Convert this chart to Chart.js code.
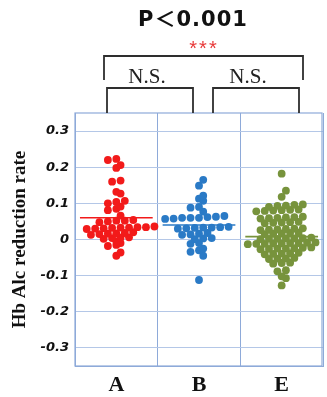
<!DOCTYPE html>
<html>
<head>
<meta charset="utf-8">
<script src="https://cdn.jsdelivr.net/npm/chart.js@4.4.1/dist/chart.umd.min.js"></script>
<style>
  html, body { margin: 0; padding: 0; background: #fff; }
</style>
</head>
<body>
<canvas id="chart" width="327" height="397"></canvas>
<script>
// groups on the x axis
const GROUPS = ['A', 'B', 'E'];

// HbA1c reduction rate per patient
const GROUP_A = [0.223, 0.220, 0.206, 0.198, 0.163, 0.160, 0.132, 0.127, 0.107, 0.104,
  0.100, 0.091, 0.085, 0.081, 0.066, 0.054, 0.052, 0.052, 0.050, 0.048,
  0.036, 0.034, 0.034, 0.033, 0.033, 0.032, 0.031, 0.030, 0.029,
  0.020, 0.018, 0.017, 0.016, 0.015, 0.013, 0.006, 0.005, 0.004, 0.002,
  -0.005, -0.010, -0.015, -0.018, -0.036, -0.045];
const GROUP_B = [0.165, 0.149, 0.121, 0.113, 0.107, 0.090, 0.088, 0.077, 0.065, 0.062,
  0.060, 0.060, 0.058, 0.057, 0.060, 0.063, 0.035, 0.034, 0.033, 0.032,
  0.031, 0.030, 0.033, 0.018, 0.016, 0.014, 0.013, 0.004, 0.003, 0.001,
  -0.010, -0.012, -0.025, -0.030, -0.034, -0.045, -0.112];
const GROUP_E = [0.182, 0.135, 0.118,
  0.097, 0.094, 0.096, 0.093, 0.090,
  0.082, 0.080, 0.078, 0.081, 0.079, 0.083,
  0.062, 0.060, 0.058, 0.061, 0.059, 0.063,
  0.048, 0.046, 0.045, 0.047, 0.049,
  0.030, 0.028, 0.027, 0.029, 0.031, 0.026,
  0.018, 0.016, 0.017, 0.015, 0.019,
  0.004, 0.003, 0.002, 0.003, 0.001, 0.005, 0.002,
  -0.010, -0.011, -0.012, -0.009, -0.011, -0.013, -0.010, -0.012, -0.008,
  -0.024, -0.025, -0.026, -0.023, -0.027, -0.025, -0.022,
  -0.038, -0.040, -0.039, -0.041, -0.037,
  -0.051, -0.053, -0.052, -0.054,
  -0.065, -0.067, -0.064,
  -0.085, -0.088, -0.102, -0.107, -0.127];

// group mean lines as drawn in the figure
const MEANS = [0.060, 0.040, 0.008];

const Y_TICKS = [-0.3, -0.2, -0.1, 0, 0.1, 0.2, 0.3];

const COLORS = ['#f21a1a', '#2a7ac6', '#77933c'];

// dot-plot layout: values that sit close together form one row, each row is
// spread evenly around the group centre, and neighbouring rows are staggered
// by half a step so the dots pack like in the figure
function dotRows(values, center) {
  const STEP = 8.6 / 84; // ~8.6px between dots, ~84px per group
  const sorted = [...values].sort((a, b) => a - b);
  const rows = [];
  sorted.forEach(v => {
    const last = rows[rows.length - 1];
    if (last && v - last[last.length - 1] <= 0.0045) last.push(v);
    else rows.push([v]);
  });
  const out = [];
  let prevPhase = null;
  rows.forEach((row, r) => {
    let shift = -(row.length - 1) / 2;
    let phase = ((shift % 1) + 1) % 1;
    if (phase === prevPhase) {
      shift += r % 2 ? 0.5 : -0.5;
      phase = (phase + 0.5) % 1;
    }
    prevPhase = phase;
    row.forEach((v, j) => out.push({ x: center + (j + shift) * STEP, y: v }));
  });
  return out;
}

const groupValues = [GROUP_A, GROUP_B, GROUP_E];

const datasets = [];
groupValues.forEach((vals, g) => {
  datasets.push({
    type: 'line',
    xAxisID: 'xs',
    data: [{ x: g - 0.44, y: MEANS[g] }, { x: g + 0.44, y: MEANS[g] }],
    borderColor: COLORS[g],
    borderWidth: 1.6,
    pointRadius: 0,
    order: 0
  });
  datasets.push({
    type: 'scatter',
    xAxisID: 'xs',
    data: dotRows(vals, g),
    backgroundColor: COLORS[g],
    borderWidth: 0,
    pointRadius: 3.9,
    order: 1
  });
});

// box around the plot and the significance brackets above it
const annotate = {
  id: 'annotate',
  beforeDatasetsDraw(chart) {
    const { ctx, chartArea: a } = chart;
    ctx.save();
    ctx.strokeStyle = '#8eaad9';
    ctx.lineWidth = 1.2;
    ctx.strokeRect(a.left, a.top, a.right - a.left - 1, a.bottom - a.top);
    ctx.restore();
  },
  afterDraw(chart) {
    const { ctx, chartArea: a } = chart;
    ctx.save();
    ctx.strokeStyle = '#2e2e2e';
    ctx.lineWidth = 1.8;
    const bracket = (x1, x2, top, bottom) => {
      ctx.beginPath();
      ctx.moveTo(x1, bottom);
      ctx.lineTo(x1, top);
      ctx.lineTo(x2, top);
      ctx.lineTo(x2, bottom);
      ctx.stroke();
    };
    bracket(104, 303, 56, 80);
    bracket(107, 193, 88, a.top);
    bracket(213, 299, 88, a.top);

    ctx.textAlign = 'center';
    ctx.textBaseline = 'middle';
    ctx.fillStyle = '#222';
    ctx.font = '21px "Liberation Serif", serif';
    ctx.fillText('N.S.', 147, 77);
    ctx.fillText('N.S.', 248, 77);

    ctx.fillStyle = '#e83a3a';
    ctx.font = '20px "Liberation Sans", sans-serif';
    ctx.letterSpacing = '2px';
    ctx.fillText('***', 204, 49);

    ctx.fillStyle = '#111';
    ctx.font = 'bold 21px "DejaVu Sans", "Noto Sans CJK SC", sans-serif';
    ctx.letterSpacing = '1px';
    ctx.fillText('P＜0.001', 193, 21);
    ctx.restore();
  }
};

new Chart(document.getElementById('chart'), {
  data: { labels: GROUPS, datasets: datasets },
  options: {
    responsive: false,
    animation: false,
    layout: { padding: { top: 113, right: 1, bottom: 0, left: 0 } },
    plugins: { legend: { display: false }, tooltip: { enabled: false } },
    scales: {
      x: {
        type: 'category',
        offset: true,
        grid: { offset: true, color: '#8eaad9', drawTicks: false },
        border: { color: '#8eaad9' },
        ticks: {
          padding: 6,
          color: '#111',
          font: { family: '"Liberation Serif", serif', size: 22, weight: 'bold' }
        },
        afterFit: s => { s.height = 31; }
      },
      xs: { type: 'linear', display: false, min: -0.5, max: 2.5 },
      y: {
        min: -0.35,
        max: 0.35,
        afterBuildTicks: s => { s.ticks = Y_TICKS.map(v => ({ value: v })); },
        grid: { color: '#b4c7e7', drawTicks: false },
        border: { color: '#8eaad9' },
        ticks: {
          padding: 6,
          color: '#111',
          font: { family: '"DejaVu Sans", sans-serif', size: 13, weight: 'bold', style: 'italic' },
          callback: v => (v === 0 ? '0' : v.toFixed(1))
        },
        title: {
          display: true,
          text: 'Hb Alc reduction rate',
          color: '#111',
          padding: { top: 9, bottom: 0 },
          font: { family: '"Liberation Serif", serif', size: 19, weight: 'bold' }
        },
        afterFit: s => { s.width = 75; }
      }
    }
  },
  plugins: [annotate]
});
</script>
</body>
</html>
